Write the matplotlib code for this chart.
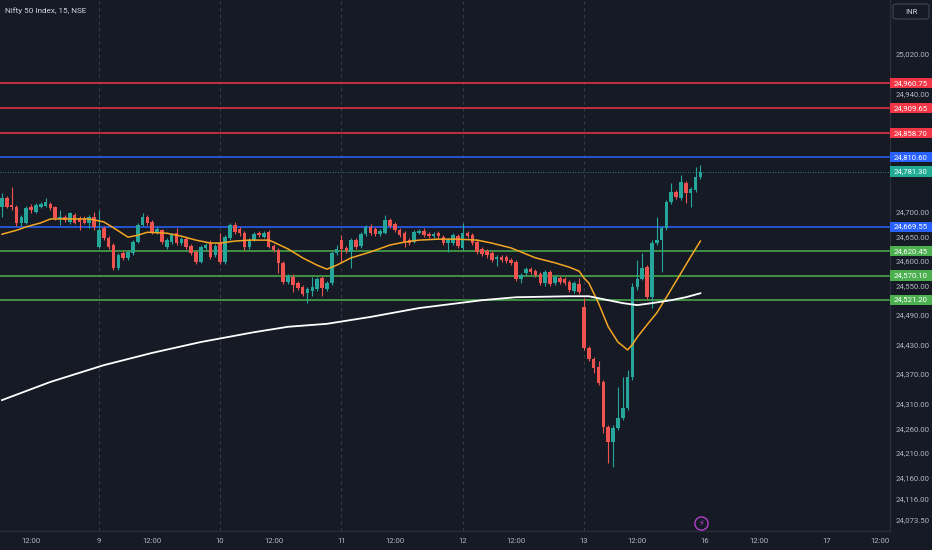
import numpy as np
import matplotlib
matplotlib.use("Agg")
import matplotlib.pyplot as plt
from matplotlib.patches import Rectangle, FancyBboxPatch
from matplotlib.transforms import blended_transform_factory

plt.rcParams['font.family'] = ['Roboto', 'DejaVu Sans']

# 15-minute candles, Nifty 50 (first bar = part of day 8)
opens = [24709, 24728, 24713, 24709, 24677, 24677, 24709, 24699, 24709, 24711,
         24715, 24709, 24685, 24689, 24679, 24693, 24687, 24687, 24677, 24689,
         24628, 24667, 24646, 24632, 24585, 24616, 24606, 24616, 24638, 24673,
         24689, 24679, 24658, 24662, 24628, 24638, 24656, 24636, 24644, 24630,
         24618, 24598, 24626, 24636, 24612,
         24636, 24598, 24646, 24673, 24665, 24656, 24628, 24642, 24656, 24648,
         24658, 24630, 24622, 24596, 24557, 24567, 24555, 24547, 24535, 24539,
         24543, 24565, 24543, 24555, 24616,
         24642, 24626, 24618, 24642, 24630, 24654, 24669, 24665, 24654, 24656,
         24683, 24675, 24662, 24656, 24642, 24638, 24656, 24660, 24654, 24650,
         24656, 24648, 24636, 24636, 24650,
         24626, 24656, 24652, 24638, 24624, 24620, 24616, 24604, 24608, 24608,
         24602, 24598, 24563, 24575, 24583, 24579, 24573, 24555, 24577, 24555,
         24565, 24563, 24557, 24539, 24553,
         24506, 24423, 24400, 24384, 24354, 24262, 24232, 24260, 24281, 24301,
         24364, 24547, 24563, 24587, 24526, 24636, 24642, 24667, 24719, 24740,
         24728, 24758, 24738, 24744, 24770]
highs = [24738, 24732, 24750, 24713, 24693, 24711, 24715, 24717, 24719, 24728,
         24719, 24711, 24703, 24693, 24699, 24697, 24691, 24691, 24693, 24699,
         24703, 24671, 24650, 24636, 24616, 24620, 24622, 24642, 24677, 24697,
         24693, 24683, 24669, 24665, 24646, 24656, 24667, 24648, 24648, 24634,
         24622, 24632, 24636, 24642, 24634,
         24656, 24652, 24677, 24679, 24669, 24660, 24646, 24658, 24660, 24660,
         24662, 24634, 24626, 24600, 24573, 24573, 24559, 24551, 24547, 24567,
         24567, 24569, 24559, 24620, 24632,
         24652, 24630, 24646, 24646, 24658, 24673, 24675, 24669, 24665, 24693,
         24687, 24679, 24667, 24660, 24646, 24662, 24665, 24667, 24658, 24658,
         24660, 24652, 24646, 24656, 24654,
         24677, 24660, 24656, 24642, 24628, 24624, 24620, 24612, 24612, 24612,
         24606, 24602, 24575, 24587, 24587, 24583, 24577, 24581, 24581, 24571,
         24569, 24567, 24561, 24559, 24565,
         24524, 24427, 24404, 24396, 24358, 24266, 24266, 24344, 24364, 24378,
         24555, 24602, 24616, 24591, 24642, 24689, 24671, 24724, 24758, 24744,
         24774, 24762, 24750, 24790, 24795]
lows = [24689, 24707, 24703, 24671, 24671, 24675, 24697, 24697, 24707, 24709,
        24703, 24683, 24673, 24679, 24675, 24675, 24662, 24675, 24667, 24662,
        24626, 24642, 24624, 24581, 24581, 24602, 24602, 24612, 24636, 24671,
        24673, 24654, 24654, 24634, 24624, 24634, 24632, 24632, 24624, 24612,
        24594, 24596, 24622, 24604, 24608,
        24594, 24594, 24642, 24654, 24650, 24622, 24624, 24640, 24648, 24646,
        24626, 24618, 24575, 24553, 24553, 24537, 24541, 24528, 24514, 24528,
        24539, 24528, 24539, 24551, 24612,
        24598, 24616, 24585, 24624, 24626, 24650, 24652, 24650, 24650, 24654,
        24667, 24658, 24648, 24628, 24632, 24636, 24654, 24648, 24646, 24646,
        24646, 24632, 24618, 24632, 24626,
        24622, 24646, 24632, 24614, 24610, 24606, 24598, 24589, 24598, 24596,
        24592, 24559, 24555, 24571, 24573, 24567, 24551, 24549, 24549, 24551,
        24553, 24551, 24537, 24535, 24533,
        24419, 24396, 24372, 24348, 24250, 24189, 24181, 24256, 24277, 24297,
        24358, 24541, 24561, 24522, 24504, 24632, 24577, 24662, 24715, 24726,
        24724, 24717, 24709, 24740, 24766]
closes = [24728, 24709, 24709, 24677, 24689, 24707, 24703, 24713, 24715, 24719,
          24707, 24687, 24689, 24683, 24697, 24677, 24679, 24677, 24689, 24669,
          24662, 24646, 24628, 24585, 24612, 24606, 24618, 24638, 24673, 24689,
          24677, 24658, 24665, 24638, 24642, 24652, 24636, 24644, 24628, 24616,
          24598, 24628, 24632, 24608, 24630,
          24598, 24648, 24673, 24658, 24656, 24628, 24642, 24654, 24652, 24656,
          24628, 24622, 24596, 24557, 24569, 24551, 24545, 24533, 24543, 24547,
          24563, 24545, 24555, 24616, 24624,
          24624, 24620, 24642, 24628, 24654, 24669, 24656, 24654, 24660, 24683,
          24671, 24662, 24652, 24638, 24636, 24658, 24660, 24652, 24650, 24654,
          24650, 24636, 24642, 24652, 24630,
          24656, 24650, 24636, 24618, 24614, 24612, 24602, 24608, 24602, 24600,
          24596, 24563, 24571, 24583, 24577, 24571, 24555, 24577, 24553, 24567,
          24557, 24555, 24541, 24555, 24537,
          24423, 24400, 24382, 24352, 24262, 24232, 24260, 24281, 24301, 24364,
          24547, 24563, 24585, 24526, 24636, 24642, 24667, 24719, 24740, 24730,
          24760, 24738, 24746, 24770, 24781.30]

# orange moving average (sampled bar index, value)
ema_fast_idx = [0, 3, 5, 8, 10, 14, 18, 21, 23, 26, 28, 30, 34, 37, 40, 43, 45,
                48, 51, 55, 56, 59, 62, 65, 67, 69, 72, 76, 80, 83, 86, 90, 94,
                98, 101, 105, 107, 110, 114, 117, 119, 120, 121, 123, 125, 127,
                129, 130, 131, 133, 135, 137, 140, 142, 144]
ema_fast_val = [24654, 24662, 24669, 24677, 24685, 24685, 24685, 24679, 24667,
                24648, 24652, 24658, 24656, 24650, 24642, 24636, 24636, 24640,
                24642, 24642, 24638, 24624, 24606, 24591, 24583, 24591, 24606,
                24618, 24632, 24638, 24642, 24644, 24644, 24642, 24636, 24626,
                24618, 24606, 24596, 24587, 24579, 24565, 24555, 24514, 24466,
                24435, 24419, 24430, 24445, 24470, 24494, 24526, 24575, 24608,
                24640]
# white moving average
ema_slow_idx = [0, 10, 21, 31, 41, 52, 59, 67, 76, 86, 99, 106, 117, 121, 124,
                128, 131, 134, 138, 141, 144]
ema_slow_val = [24317, 24354, 24388, 24413, 24435, 24455, 24466, 24472, 24486,
                24504, 24520, 24526, 24528, 24528, 24522, 24514, 24510, 24514,
                24520, 24526, 24534]

red_levels = [24960.75, 24909.65, 24858.70]
blue_levels = [24810.60, 24669.55]
green_levels = [24620.45, 24570.10, 24521.20]
last_price = 24781.30

price_ticks = [25020, 24940, 24700, 24650, 24600, 24550, 24490, 24430, 24370,
               24310, 24260, 24210, 24160, 24116, 24073.5]
day_starts = [20, 45, 70, 95, 120]
time_ticks = [6, 20, 31, 45, 56, 70, 81, 95, 106, 120, 131, 145, 156, 170, 181]
time_labels = ['12:00', '9', '12:00', '10', '12:00', '11', '12:00', '12',
               '12:00', '13', '12:00', '16', '12:00', '17', '12:00']

BG = '#161a25'
UP = '#26a69a'
DOWN = '#ef5350'
TXT = '#b2b5be'
FS = 5.6

fig = plt.figure(figsize=(9.32, 5.5), dpi=100, facecolor=BG)
ax = fig.add_axes([0, 19 / 550, 890 / 932, 531 / 550])
ax.set_facecolor(BG)

o = np.array(opens, dtype=float)
h = np.array(highs, dtype=float)
l = np.array(lows, dtype=float)
c = np.array(closes, dtype=float)
x = np.arange(len(c))
cols = np.where(c >= o, UP, DOWN)

for d in day_starts:
    ax.axvline(d, color='#363a45', lw=0.8, ls=(0, (3, 3)), zorder=0)

for lv in red_levels:
    ax.axhline(lv, color='#f23645', lw=1.1, zorder=1)
for lv in blue_levels:
    ax.axhline(lv, color='#2962ff', lw=1.1, zorder=1)
for lv in green_levels:
    ax.axhline(lv, color='#4caf50', lw=1.1, zorder=1)
ax.axhline(last_price, color=UP, lw=0.6, ls=(0, (1, 2)), zorder=1)

ax.vlines(x, l, h, colors=cols, lw=0.8, zorder=3)
body_bot = np.minimum(o, c)
body_h = np.maximum(np.abs(c - o), 1.0)
ax.bar(x, body_h, bottom=body_bot, width=0.74, color=cols, lw=0, zorder=4)

ax.plot(ema_fast_idx, ema_fast_val, color='#f5a623', lw=1.1, zorder=5)
ax.plot(ema_slow_idx, ema_slow_val, color='#ffffff', lw=1.3, zorder=5)

ax.set_xlim(-0.4, 183.1)
ax.set_ylim(24051.2, 25129.7)

ax.yaxis.tick_right()
ax.set_yticks(price_ticks)
ax.set_yticklabels(['{:,.2f}'.format(v) for v in price_ticks])
ax.tick_params(axis='y', length=0, pad=4, labelsize=FS, labelcolor=TXT)
ax.set_xticks(time_ticks)
ax.set_xticklabels(time_labels)
ax.tick_params(axis='x', length=0, pad=5, labelsize=FS, labelcolor=TXT)

for s in ['left', 'top']:
    ax.spines[s].set_visible(False)
for s in ['right', 'bottom']:
    ax.spines[s].set_color('#2a2e39')
    ax.spines[s].set_linewidth(1)

# price labels on the right scale
tr = blended_transform_factory(ax.transAxes, ax.transData)
box_w = 42 / 890
box_h = 20.5
tags = ([(v, '#f23645') for v in red_levels] + [(v, '#2962ff') for v in blue_levels]
        + [(v, '#4caf50') for v in green_levels] + [(last_price, '#22ab94')])
for v, col in tags:
    ax.add_patch(Rectangle((1.0, v - box_h / 2), box_w, box_h, transform=tr,
                           facecolor=col, edgecolor='none', clip_on=False, zorder=6))
    ax.text(1.0 + box_w / 2, v, '{:,.2f}'.format(v), transform=tr, ha='center',
            va='center', fontsize=FS, color='white', zorder=7, clip_on=False)

# title and currency box
fig.text(5 / 932, 1 - 11 / 550, 'Nifty 50 Index, 15, NSE', ha='left', va='center',
         fontsize=5.9, color='#d1d4dc')
fig.add_artist(FancyBboxPatch((893 / 932, 1 - 19 / 550), 36 / 932, 15 / 550,
                              boxstyle='round,pad=0,rounding_size=0.004',
                              transform=fig.transFigure, facecolor=BG,
                              edgecolor='#434651', lw=0.8))
fig.text(911 / 932, 1 - 11.5 / 550, 'INR', ha='center', va='center',
         fontsize=FS, color='#d1d4dc')

# event icon (day 16)
ax.plot([144.2], [24067.5], marker='o', ms=9.5, mfc=BG, mec='#b13fcc', mew=1.0,
        zorder=6, clip_on=False)
ax.text(144.2, 24067.5, '\u26a1', ha='center', va='center', fontsize=6,
        color='#c04ad8', family=['DejaVu Sans'], zorder=7)

fig.savefig('out.png', dpi=100, facecolor=BG)
